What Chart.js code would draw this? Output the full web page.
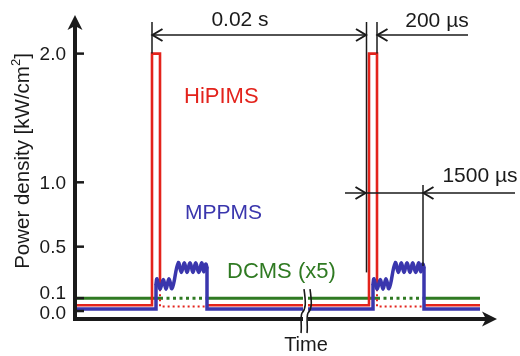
<!DOCTYPE html>
<html>
<head>
<meta charset="utf-8">
<script src="https://cdn.jsdelivr.net/npm/chart.js@4/dist/chart.umd.min.js"></script>
<style>
  html, body { margin: 0; padding: 0; background: #ffffff; }
  #wrap { width: 520px; height: 356px; }
</style>
</head>
<body>
<div id="wrap"><canvas id="c" width="520" height="356"></canvas></div>
<script>
// ---- waveform data (schematic time units along x, kW/cm² along y) ----
const yTicks      = [0.0, 0.1, 0.5, 1.0, 2.0];
const pulseOn     = [77, 294];     // HiPIMS pulse start
const pulseOff    = [85, 302];     // HiPIMS pulse end
const burstOn     = [81, 298];     // MPPMS burst start
const burstEnd    = [132, 349];    // MPPMS burst end
const timeEnd     = 405;
const axisBreak   = [228, 233];    // broken time axis
const hipimsLevel = [0.045, 2.0, 0.17];  // idle, peak, foot of the falling edge
const hipimsFloor = 0.035;
const dcmsLevel   = 0.1;           // DCMS, shown x5
const mppmsIdle   = 0.016;
// one MPPMS burst: time after burst start, power density
const burstT = [0, 1, 4, 7.3, 10, 13, 16, 22.3, 25.3, 28.3, 31, 34, 37, 39.7, 42.7, 45.7, 47.7, 49.7, 51];
const burstP = [0.21, 0.25, 0.17, 0.245, 0.17, 0.25, 0.175, 0.375, 0.30, 0.375, 0.30, 0.375, 0.30, 0.375, 0.30, 0.375, 0.305, 0.365, 0.34];

const RED = '#e3231c', BLUE = '#3a36ad', GREEN = '#2f7a22', INK = '#1a1a1a';
const FONT = '"Liberation Sans", Arial, Helvetica, sans-serif';

const P = (x, y) => ({ x, y });
const gap = x => ({ x, y: null });
const lastP = burstP[burstP.length - 1];
const brk = (axisBreak[0] + axisBreak[1]) / 2;

// HiPIMS (solid part)
const redSolid = [
  P(0, hipimsLevel[0]), P(pulseOn[0], hipimsLevel[0]), P(pulseOn[0], hipimsLevel[1]),
  P(pulseOff[0], hipimsLevel[1]), P(pulseOff[0], hipimsLevel[2]), gap(100),
  P(burstEnd[0], hipimsLevel[0]), P(axisBreak[0], hipimsLevel[0]), gap(brk),
  P(axisBreak[1], hipimsLevel[0]), P(pulseOn[1], hipimsLevel[0]), P(pulseOn[1], hipimsLevel[1]),
  P(pulseOff[1], hipimsLevel[1]), P(pulseOff[1], hipimsLevel[2]), gap(320),
  P(burstEnd[1], hipimsLevel[0]), P(timeEnd, hipimsLevel[0])
];
// HiPIMS hidden under the MPPMS burst (dotted)
const redDotted = [
  P(pulseOff[0], hipimsLevel[2]), P(pulseOff[0], hipimsFloor), P(burstEnd[0], hipimsFloor), gap(200),
  P(pulseOff[1], hipimsLevel[2]), P(pulseOff[1], hipimsFloor), P(burstEnd[1], hipimsFloor)
];
// DCMS
const greenSolid = [
  P(0, dcmsLevel), P(pulseOff[0], dcmsLevel), gap(100),
  P(burstEnd[0], dcmsLevel), P(axisBreak[0], dcmsLevel), gap(brk),
  P(axisBreak[1], dcmsLevel), P(pulseOff[1], dcmsLevel), gap(320),
  P(burstEnd[1], dcmsLevel), P(timeEnd, dcmsLevel)
];
const greenDotted = [
  P(pulseOff[0], dcmsLevel), P(burstEnd[0], dcmsLevel), gap(200),
  P(pulseOff[1], dcmsLevel), P(burstEnd[1], dcmsLevel)
];
// MPPMS idle level and burst edges
const blueEdges = [
  P(0, mppmsIdle), P(burstOn[0], mppmsIdle), P(burstOn[0], burstP[0]), gap(100),
  P(burstEnd[0], lastP), P(burstEnd[0], mppmsIdle), P(axisBreak[0], mppmsIdle), gap(brk),
  P(axisBreak[1], mppmsIdle), P(burstOn[1], mppmsIdle), P(burstOn[1], burstP[0]), gap(320),
  P(burstEnd[1], lastP), P(burstEnd[1], mppmsIdle), P(timeEnd, mppmsIdle)
];
// MPPMS oscillating bursts
const blueWave = [];
burstOn.forEach((t0, k) => {
  if (k > 0) blueWave.push(gap(t0 - 20));
  burstT.forEach((dt, i) => blueWave.push(P(t0 + dt, burstP[i])));
});

const line = (data, color, width, extra) => Object.assign({
  data, borderColor: color, borderWidth: width, showLine: true, fill: false,
  pointRadius: 0, pointHoverRadius: 0, tension: 0, spanGaps: false,
  borderCapStyle: 'butt', borderJoinStyle: 'miter'
}, extra || {});

// ---- axes, labels and dimension arrows ----
function chevron(ctx, tx, ty, dir) {
  ctx.beginPath();
  ctx.moveTo(tx - dir * 10, ty - 6);
  ctx.lineTo(tx, ty);
  ctx.lineTo(tx - dir * 10, ty + 6);
  ctx.stroke();
}
function vline(ctx, x, y0, y1) {
  ctx.beginPath(); ctx.moveTo(x, y0); ctx.lineTo(x, y1); ctx.stroke();
}
function hline(ctx, x0, x1, y) {
  ctx.beginPath(); ctx.moveTo(x0, y); ctx.lineTo(x1, y); ctx.stroke();
}

const schematic = {
  id: 'schematic',
  afterDatasetsDraw(chart) {
    const { ctx, chartArea: a, scales: { x, y } } = chart;
    ctx.save();
    ctx.fillStyle = INK; ctx.strokeStyle = INK;

    // y axis with arrow
    const ax = a.left, ay = a.bottom;
    ctx.lineWidth = 4;
    vline(ctx, ax, ay + 2, a.top + 10);
    ctx.beginPath();
    ctx.moveTo(ax, a.top); ctx.lineTo(ax - 7.5, a.top + 15); ctx.lineTo(ax, a.top + 11);
    ctx.lineTo(ax + 7.5, a.top + 15); ctx.closePath(); ctx.fill();

    // x axis with arrow, broken
    const bx0 = x.getPixelForValue(axisBreak[0]), bx1 = x.getPixelForValue(axisBreak[1]);
    hline(ctx, ax - 2, bx0, ay);
    hline(ctx, bx1, a.right - 10, ay);
    ctx.beginPath();
    ctx.moveTo(a.right, ay); ctx.lineTo(a.right - 15, ay - 7.5); ctx.lineTo(a.right - 11, ay);
    ctx.lineTo(a.right - 15, ay + 7.5); ctx.closePath(); ctx.fill();

    // break marks
    ctx.lineWidth = 1.6;
    [bx0, bx1 + 1].forEach(bx => {
      ctx.beginPath();
      ctx.moveTo(bx + 1, y.getPixelForValue(0.17));
      ctx.bezierCurveTo(bx + 3, ay - 16, bx + 3, ay - 10, bx - 1, ay - 6);
      ctx.bezierCurveTo(bx - 3, ay - 2, bx - 1, ay + 8, bx - 2, ay + 14);
      ctx.stroke();
    });

    // y ticks
    ctx.lineWidth = 2.5;
    yTicks.forEach(v => hline(ctx, ax, ax + 9, y.getPixelForValue(v)));

    // y tick labels (crowded ones spread apart)
    ctx.font = '19px ' + FONT;
    ctx.textAlign = 'right'; ctx.textBaseline = 'middle';
    const pos = yTicks.map(v => y.getPixelForValue(v));
    for (let i = 0; i < pos.length - 1; i++) {
      const d = pos[i] - pos[i + 1];
      if (d < 20) { const s = (20 - d) / 2; pos[i] += s - 2; pos[i + 1] -= s + 2; }
    }
    yTicks.forEach((v, i) => ctx.fillText(v.toFixed(1), ax - 9, pos[i] + 1));

    // axis titles
    ctx.save();
    ctx.translate(23, 161); ctx.rotate(-Math.PI / 2);
    ctx.font = '20.5px ' + FONT;
    const t1 = 'Power density [kW/cm', t2 = '2', t3 = ']';
    const w1 = ctx.measureText(t1).width, w3 = ctx.measureText(t3).width;
    ctx.font = '13px ' + FONT;
    const w2 = ctx.measureText(t2).width;
    const start = -(w1 + w2 + w3) / 2;
    ctx.textAlign = 'left';
    ctx.font = '20.5px ' + FONT; ctx.fillText(t1, start, 0);
    ctx.font = '13px ' + FONT; ctx.fillText(t2, start + w1, -7);
    ctx.font = '20.5px ' + FONT; ctx.fillText(t3, start + w1 + w2, 0);
    ctx.restore();

    ctx.font = '20px ' + FONT; ctx.textAlign = 'center';
    ctx.fillText('Time', 306, 345);

    // dimension lines
    const p0 = x.getPixelForValue(pulseOn[0]);
    const p1 = x.getPixelForValue(pulseOn[1]) - 2.5;
    const p1e = x.getPixelForValue(pulseOff[1]);
    const be = x.getPixelForValue(burstEnd[1]) - 1;
    const topY = y.getPixelForValue(hipimsLevel[1]);
    const arrY = 35, arrY2 = 193;
    ctx.lineWidth = 1.5;
    vline(ctx, p0, 22, topY);
    vline(ctx, p1, 22, y.getPixelForValue(0.3));
    vline(ctx, p1e, 22, topY);
    vline(ctx, be, 185, y.getPixelForValue(0.35));
    hline(ctx, p0, p1, arrY);
    hline(ctx, p1e, 468, arrY);
    hline(ctx, 345, 515, arrY2);
    ctx.lineWidth = 2;
    chevron(ctx, p0 + 0.5, arrY, -1);
    chevron(ctx, p1 - 0.5, arrY, 1);
    chevron(ctx, p1e + 0.5, arrY, -1);
    chevron(ctx, p1 - 1, arrY2, 1);
    chevron(ctx, be + 0.5, arrY2, -1);

    ctx.font = '21px ' + FONT; ctx.textAlign = 'center'; ctx.textBaseline = 'middle';
    ctx.fillText('0.02 s', 240, 20);
    ctx.fillText('200 \u00b5s', 437, 21);
    ctx.fillText('1500 \u00b5s', 480, 176);

    // series names
    ctx.textAlign = 'left';
    ctx.font = '22px ' + FONT;
    ctx.fillStyle = RED;   ctx.fillText('HiPIMS', 184, 97);
    ctx.font = '21px ' + FONT;
    ctx.fillStyle = BLUE;  ctx.fillText('MPPMS', 185, 213);
    ctx.font = '22px ' + FONT;
    ctx.fillStyle = GREEN; ctx.fillText('DCMS (x5)', 227, 272);
    ctx.restore();
  }
};

new Chart(document.getElementById('c'), {
  type: 'scatter',
  data: {
    datasets: [
      line(blueWave, BLUE, 3.5, { tension: 0.45, borderJoinStyle: 'round', borderCapStyle: 'round' }),
      line(blueEdges, BLUE, 3.5),
      line(redSolid, RED, 2.6),
      line(redDotted, RED, 2, { borderDash: [2, 3] }),
      line(greenSolid, GREEN, 3),
      line(greenDotted, GREEN, 3, { borderDash: [3, 3.5] })
    ]
  },
  options: {
    responsive: false,
    devicePixelRatio: 1,
    animation: false,
    events: [],
    layout: { padding: { left: 75, right: 23, top: 15, bottom: 37 } },
    plugins: { legend: { display: false }, tooltip: { enabled: false } },
    scales: {
      x: { type: 'linear', min: 0, max: 422, display: false },
      y: { type: 'linear', min: -0.062, max: 2.30, display: false }
    }
  },
  plugins: [schematic]
});
</script>
</body>
</html>
